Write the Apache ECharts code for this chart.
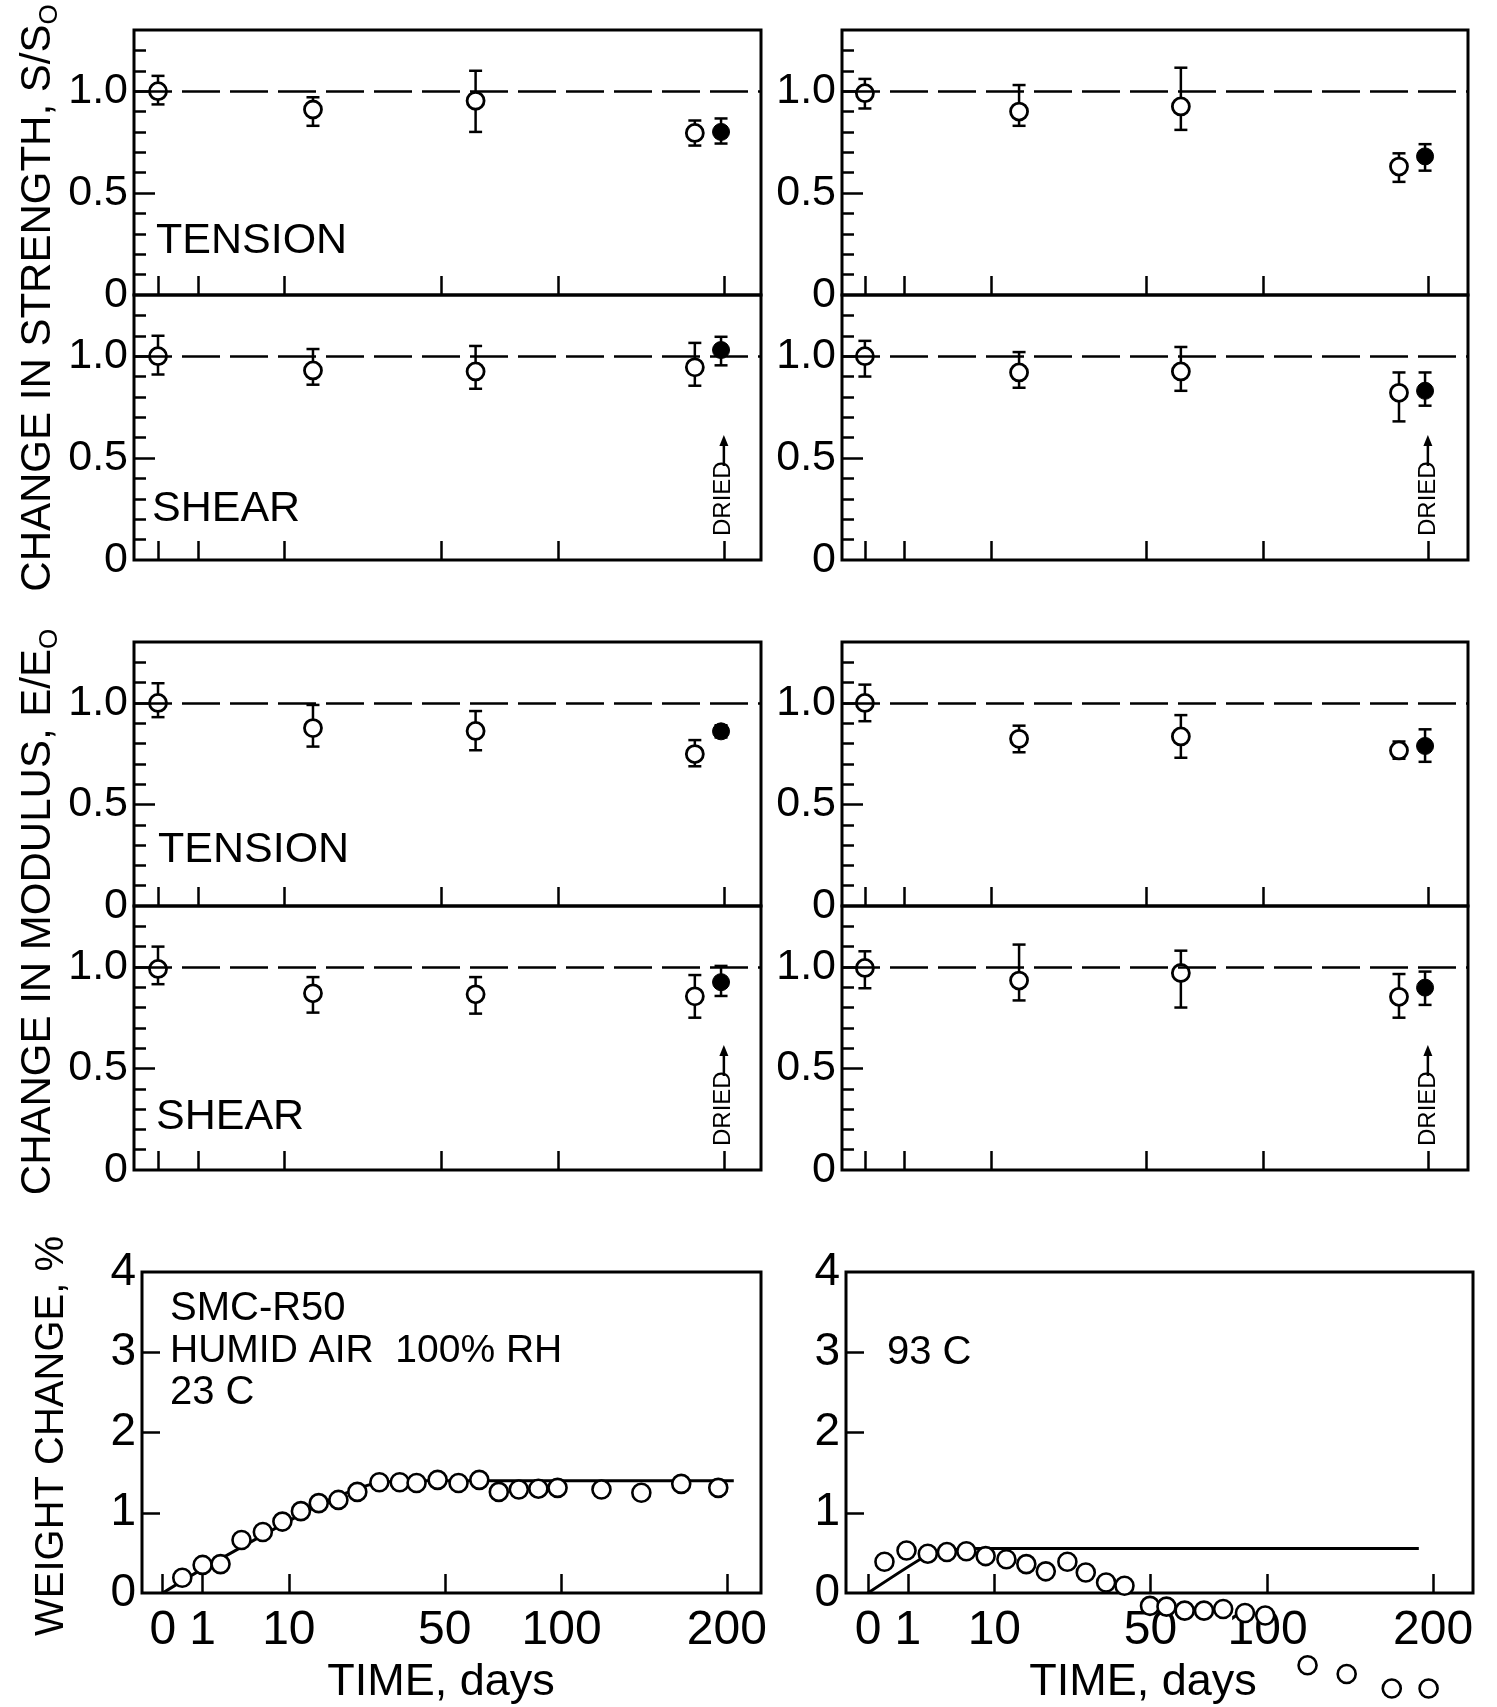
<!DOCTYPE html>
<html><head><meta charset="utf-8">
<script src="https://cdn.jsdelivr.net/npm/echarts@6/dist/echarts.min.js"></script>
<style>html,body{margin:0;padding:0;background:#fff}#c{width:1497px;height:1707px}</style>
</head><body><div id="c"></div>
<script>
// ---------------- DATA ----------------
const tickDays = [0, 1, 10, 50, 100, 200];
const tickLabels = ['0', '1', '10', '50', '100', '200'];
const ratioLabelValues = [0, 0.5, 1.0];
const ratioMinorTicks = [0.1, 0.2, 0.3, 0.4, 0.6, 0.7, 0.8, 0.9, 1.1, 1.2];
const weightLabelValues = [0, 1, 2, 3, 4];

// exposure times (days) of the open-circle measurements and of the dried specimen
const testDays = [0, 15, 63, 180];
const driedDay = 198;

// [ratio, upper bar, lower bar]
const strTen23 = [[1.00, 1.075, 0.935], [0.91, 0.97, 0.83], [0.953, 1.10, 0.80], [0.795, 0.856, 0.733]];
const strTen23Dried = [0.80, 0.866, 0.743];
const strShr23 = [[1.00, 1.10, 0.91], [0.93, 1.035, 0.86], [0.925, 1.05, 0.84], [0.945, 1.065, 0.855]];
const strShr23Dried = [1.03, 1.095, 0.955];
const strTen93 = [[0.99, 1.06, 0.915], [0.90, 1.03, 0.83], [0.925, 1.115, 0.81], [0.63, 0.695, 0.555]];
const strTen93Dried = [0.68, 0.74, 0.61];
const strShr93 = [[1.00, 1.075, 0.90], [0.92, 1.02, 0.845], [0.925, 1.045, 0.83], [0.82, 0.92, 0.68]];
const strShr93Dried = [0.83, 0.92, 0.757];

const modTen23 = [[1.00, 1.097, 0.93], [0.876, 0.99, 0.785], [0.862, 0.96, 0.767], [0.748, 0.817, 0.688]];
const modTen23Dried = [0.86, 0.89, 0.83];
const modShr23 = [[0.99, 1.10, 0.915], [0.87, 0.95, 0.775], [0.865, 0.95, 0.77], [0.855, 0.96, 0.75]];
const modShr23Dried = [0.925, 1.005, 0.857];
const modTen93 = [[1.00, 1.09, 0.91], [0.823, 0.888, 0.757], [0.835, 0.94, 0.73], [0.766, 0.81, 0.725]];
const modTen93Dried = [0.788, 0.87, 0.71];
const modShr93 = [[0.995, 1.077, 0.895], [0.933, 1.11, 0.835], [0.97, 1.08, 0.80], [0.853, 0.965, 0.75]];
const modShr93Dried = [0.898, 0.977, 0.813];

// weight change, 23 C
const wDays23 = [0.24, 1.0, 2.1, 3.9, 6.3, 9, 12, 15.3, 19.4, 23.8, 29.5, 35.3, 40.5, 47.5, 55, 63, 71, 79.7, 88.7, 98, 121, 144, 169, 194];
const wPct23 = [0.19, 0.35, 0.36, 0.66, 0.76, 0.89, 1.02, 1.12, 1.16, 1.26, 1.38, 1.38, 1.37, 1.41, 1.37, 1.41, 1.26, 1.29, 1.30, 1.31, 1.29, 1.25, 1.36, 1.31];
const wFitDays23 = [0, 1, 16, 25, 30, 40, 205];
const wFitPct23 = [0, 0.30, 1.12, 1.32, 1.38, 1.40, 1.40];

// weight change, 93 C
const wDays93 = [0.17, 0.93, 2.24, 3.9, 6.06, 8.67, 12, 15.7, 19.8, 24.9, 29.7, 35.5, 41.2, 49.8, 55.8, 62.8, 70.7, 79, 89, 98.8, 121, 143.5, 171.8, 196.8];
const wPct93 = [0.39, 0.53, 0.49, 0.51, 0.52, 0.46, 0.42, 0.36, 0.27, 0.39, 0.255, 0.13, 0.09, -0.16, -0.17, -0.22, -0.22, -0.20, -0.25, -0.28, -0.90, -1.01, -1.19, -1.19];
const wFitDays93 = [0, 2.2, 4, 7, 190];
const wFitPct93 = [0, 0.47, 0.53, 0.555, 0.555];

// ---------------- CHART ----------------
const F = '"Liberation Sans", Arial, sans-serif';
const BLACK = '#000';
const sq = Math.sqrt;

const boxes = [
  {left: 134, top: 30, width: 627, height: 265, xr: [-0.6, 15.07]},   // 0 strength tension 23C
  {left: 134, top: 295, width: 627, height: 265, xr: [-0.6, 15.07]},  // 1 strength shear 23C
  {left: 842, top: 30, width: 626, height: 265, xr: [-0.575, 15.15]}, // 2 strength tension 93C
  {left: 842, top: 295, width: 626, height: 265, xr: [-0.575, 15.15]},// 3 strength shear 93C
  {left: 134, top: 642, width: 627, height: 264, xr: [-0.6, 15.07]},  // 4 modulus tension 23C
  {left: 134, top: 906, width: 627, height: 264, xr: [-0.6, 15.07]},  // 5 modulus shear 23C
  {left: 842, top: 642, width: 626, height: 264, xr: [-0.575, 15.15]},// 6 modulus tension 93C
  {left: 842, top: 906, width: 626, height: 264, xr: [-0.575, 15.15]},// 7 modulus shear 93C
  {left: 142, top: 1272, width: 619, height: 321, xr: [-0.52, 15.0]}, // 8 weight 23C
  {left: 846, top: 1272, width: 627, height: 321, xr: [-0.55, 15.14]} // 9 weight 93C
];

const xLabelFor = v => {
  for (let i = 0; i < tickDays.length; i++) if (Math.abs(sq(tickDays[i]) - v) < 1e-6) return tickLabels[i];
  return '';
};

const grids = [], xAxes = [], yAxes = [], series = [];
const majorY = [];

boxes.forEach((b, i) => {
  const isW = i >= 8;
  grids.push({left: b.left, top: b.top, width: b.width, height: b.height, show: true,
    borderColor: BLACK, borderWidth: 3, backgroundColor: 'rgba(0,0,0,0)'});
  xAxes.push({
    gridIndex: i, type: 'value', min: b.xr[0], max: b.xr[1], position: 'bottom',
    axisLine: {show: false, onZero: false}, splitLine: {show: false},
    axisTick: {show: true, inside: true, length: 19, customValues: tickDays.map(sq),
      lineStyle: {color: BLACK, width: 2.5}},
    axisLabel: {show: isW, customValues: tickDays.map(sq), formatter: v => xLabelFor(v),
      color: BLACK, fontFamily: F, fontSize: 48, margin: 14}
  });
  if (!isW) {
    majorY[i] = yAxes.length;
    yAxes.push({
      gridIndex: i, type: 'value', min: 0, max: 1.3, position: 'left',
      axisLine: {show: false, onZero: false}, splitLine: {show: false},
      axisTick: {show: true, inside: true, length: 21, customValues: [0.5, 1.0], lineStyle: {color: BLACK, width: 2.5}},
      axisLabel: {customValues: ratioLabelValues, formatter: v => (v === 0 ? '0' : v.toFixed(1)),
        color: BLACK, fontFamily: F, fontSize: 43, margin: 6}
    });
    yAxes.push({
      gridIndex: i, type: 'value', min: 0, max: 1.3, position: 'left',
      axisLine: {show: false, onZero: false}, splitLine: {show: false},
      axisTick: {show: true, inside: true, length: 12, customValues: ratioMinorTicks, lineStyle: {color: BLACK, width: 2.5}},
      axisLabel: {show: false}
    });
  } else {
    majorY[i] = yAxes.length;
    yAxes.push({
      gridIndex: i, type: 'value', min: 0, max: 4, position: 'left',
      axisLine: {show: false, onZero: false}, splitLine: {show: false},
      axisTick: {show: true, inside: true, length: 18, customValues: [1, 2, 3], lineStyle: {color: BLACK, width: 2.5}},
      axisLabel: {customValues: weightLabelValues, formatter: v => String(v),
        color: BLACK, fontFamily: F, fontSize: 46, margin: 6}
    });
  }
});

function renderErr(params, api) {
  const x = api.value(0), lo = api.value(1), hi = api.value(2);
  const a = api.coord([x, lo]), b = api.coord([x, hi]);
  const c = 6.5;
  const st = {stroke: BLACK, lineWidth: 2.5, fill: null};
  return {type: 'group', children: [
    {type: 'line', shape: {x1: a[0], y1: a[1], x2: b[0], y2: b[1]}, style: st},
    {type: 'line', shape: {x1: a[0] - c, y1: a[1], x2: a[0] + c, y2: a[1]}, style: st},
    {type: 'line', shape: {x1: b[0] - c, y1: b[1], x2: b[0] + c, y2: b[1]}, style: st}
  ]};
}

function addRatioPanel(gi, open, dried) {
  const yi = majorY[gi];
  const errData = open.map((r, k) => [sq(testDays[k]), r[2], r[1]]).concat([[sq(driedDay), dried[2], dried[1]]]);
  series.push({type: 'custom', xAxisIndex: gi, yAxisIndex: yi, renderItem: renderErr, data: errData,
    encode: {x: 0, y: [1, 2]}, z: 3, silent: true});
  series.push({type: 'scatter', xAxisIndex: gi, yAxisIndex: yi, symbol: 'circle', symbolSize: 17,
    itemStyle: {color: '#fff', borderColor: BLACK, borderWidth: 2.8, opacity: 1},
    data: open.map((r, k) => [sq(testDays[k]), r[0]]), z: 4,
    markLine: {silent: true, symbol: ['none', 'none'], label: {show: false}, animation: false,
      lineStyle: {color: BLACK, width: 2.5, type: [38, 10]}, data: [{yAxis: 1}]}});
  series.push({type: 'scatter', xAxisIndex: gi, yAxisIndex: yi, symbol: 'circle', symbolSize: 17,
    itemStyle: {color: BLACK, borderColor: BLACK, borderWidth: 1, opacity: 1},
    data: [[sq(driedDay), dried[0]]], z: 5});
}

addRatioPanel(0, strTen23, strTen23Dried);
addRatioPanel(1, strShr23, strShr23Dried);
addRatioPanel(2, strTen93, strTen93Dried);
addRatioPanel(3, strShr93, strShr93Dried);
addRatioPanel(4, modTen23, modTen23Dried);
addRatioPanel(5, modShr23, modShr23Dried);
addRatioPanel(6, modTen93, modTen93Dried);
addRatioPanel(7, modShr93, modShr93Dried);

function addWeightPanel(gi, days, pct, fitDays, fitPct) {
  const yi = majorY[gi];
  series.push({type: 'line', xAxisIndex: gi, yAxisIndex: yi, showSymbol: false, symbol: 'none',
    lineStyle: {color: BLACK, width: 3}, data: fitDays.map((d, k) => [sq(d), fitPct[k]]), z: 2, smooth: 0.2});
  series.push({type: 'scatter', xAxisIndex: gi, yAxisIndex: yi, symbol: 'circle', symbolSize: 18, clip: false,
    itemStyle: {color: '#fff', borderColor: BLACK, borderWidth: 2.6, opacity: 1},
    data: days.map((d, k) => [sq(d), pct[k]]), z: 4});
}
addWeightPanel(8, wDays23, wPct23, wFitDays23, wFitPct23);
addWeightPanel(9, wDays93, wPct93, wFitDays93, wFitPct93);

const chart = echarts.init(document.getElementById('c'), null, {renderer: 'canvas'});
chart.setOption({
  animation: false,
  backgroundColor: '#fff',
  grid: grids, xAxis: xAxes, yAxis: yAxes, series: series
});

// ---------------- ANNOTATIONS ----------------
function txt(text, x, y, size, opts) {
  opts = opts || {};
  return {type: 'text', x: x, y: y, rotation: opts.rot || 0, z: 100, silent: true,
    style: {text: text, x: 0, y: 0, font: size + 'px ' + F, fill: BLACK,
      textAlign: opts.align || 'left', textVerticalAlign: 'middle', align: opts.align || 'left', verticalAlign: 'middle',
      rich: opts.rich}};
}
const g = [];
const subRich = {
  m: {fontSize: 42, fontFamily: F, verticalAlign: 'middle', lineHeight: 50},
  s: {fontSize: 26, fontFamily: F, verticalAlign: 'bottom', lineHeight: 50}
};
g.push(txt('{m|CHANGE IN STRENGTH, S/S}{s|O}', 38, 298, 42, {rot: Math.PI / 2, align: 'center', rich: subRich}));
g.push(txt('{m|CHANGE IN MODULUS, E/E}{s|O}', 38, 912, 42, {rot: Math.PI / 2, align: 'center', rich: subRich}));
g.push(txt('WEIGHT CHANGE, %', 52, 1436, 40, {rot: Math.PI / 2, align: 'center'}));

g.push(txt('TENSION', 156, 241, 43));
g.push(txt('SHEAR', 152, 509, 43));
g.push(txt('TENSION', 158, 850, 43));
g.push(txt('SHEAR', 156, 1117, 43));

g.push(txt('SMC-R50', 170, 1309, 40));
g.push(txt('HUMID AIR  100% RH', 170, 1351, 39));
g.push(txt('23 C', 170, 1393, 40));
g.push(txt('93 C', 887, 1353, 40));

g.push(txt('TIME, days', 441, 1683, 45, {align: 'center'}));
g.push(txt('TIME, days', 1143, 1683, 45, {align: 'center'}));

[1, 3, 5, 7].forEach(gi => {
  const p = chart.convertToPixel({gridIndex: gi}, [sq(200), 0]);
  const x = p[0], yb = p[1] - 24;
  g.push(txt('DRIED', x, yb, 24, {rot: Math.PI / 2}));
  const top = yb - 70;
  g.push({type: 'line', z: 100, silent: true, shape: {x1: x, y1: top, x2: x, y2: top - 24},
    style: {stroke: BLACK, lineWidth: 2.5}});
  g.push({type: 'polygon', z: 100, silent: true, shape: {points: [[x - 4.5, top - 20], [x + 4.5, top - 20], [x, top - 31]]},
    style: {fill: BLACK}});
});
chart.setOption({graphic: {elements: g}});
</script>
</body></html>
